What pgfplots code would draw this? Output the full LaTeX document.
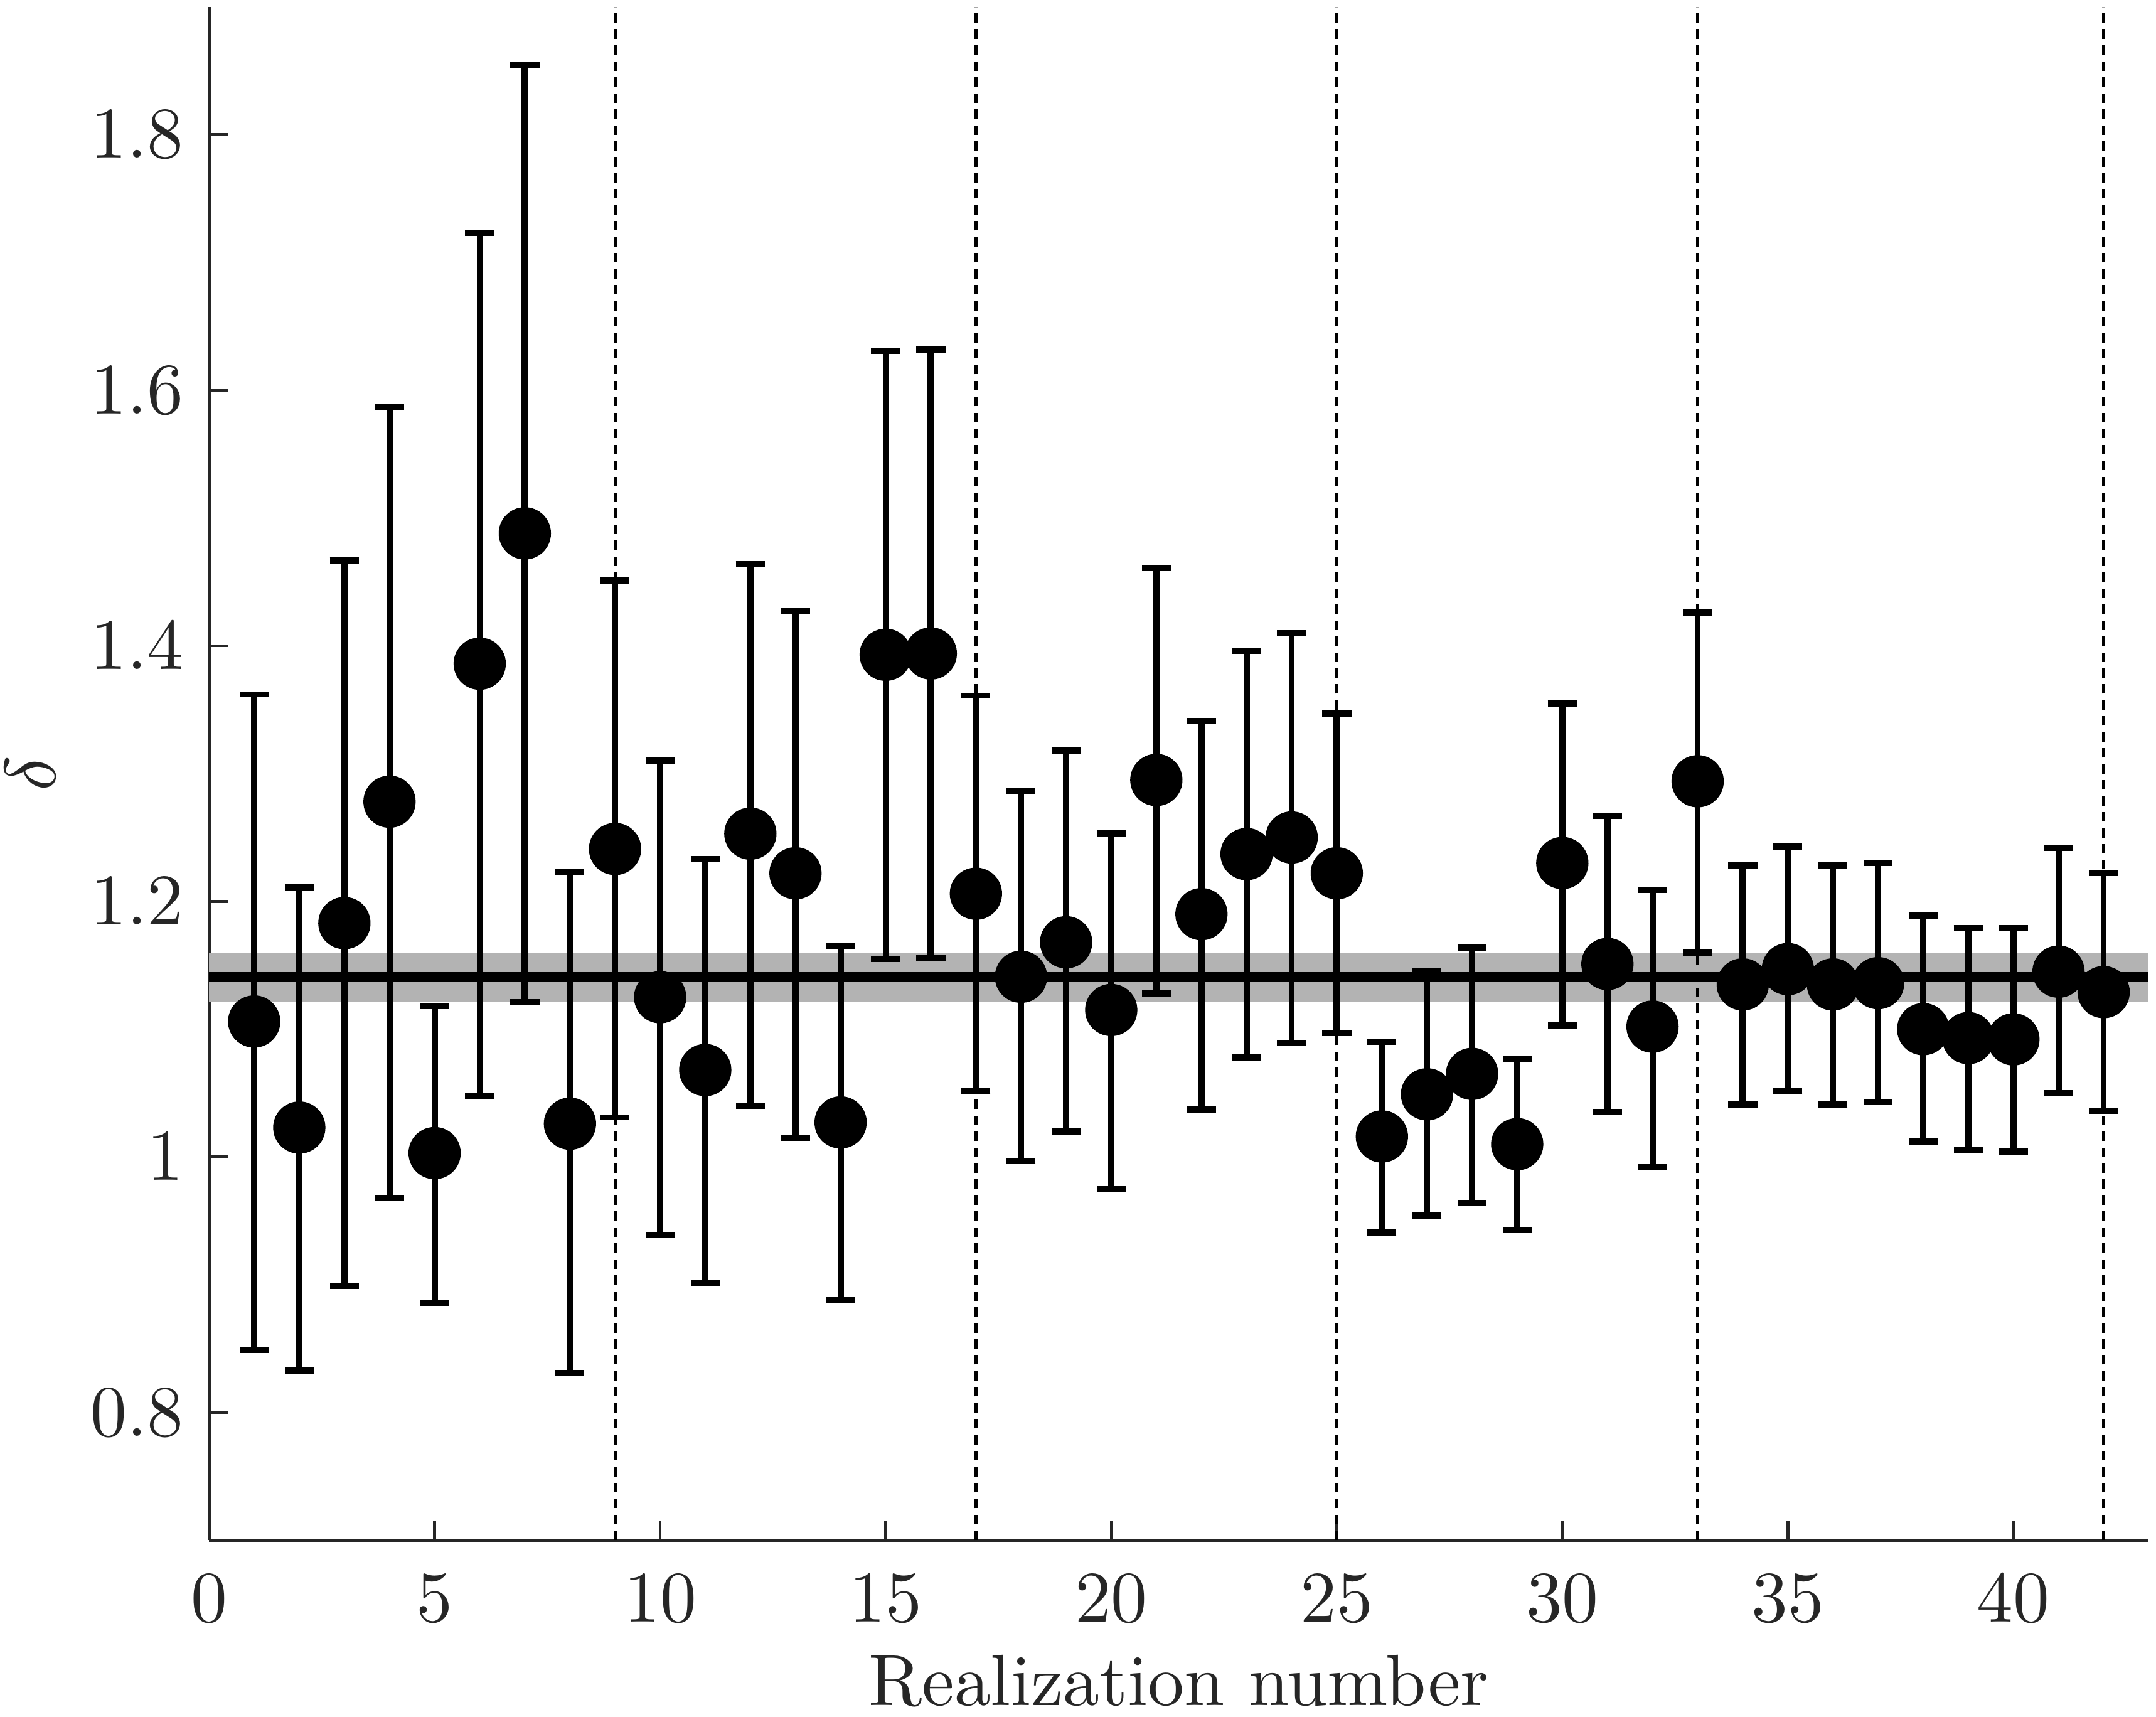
\documentclass[border=0pt]{standalone}
\usepackage{pgfplots}
\pgfplotsset{compat=1.18}
\usepackage{pgfplotstable}
\definecolor{axgray}{rgb}{0.15,0.15,0.15}
\definecolor{bandgray}{RGB}{179,179,179}
\pgfplotstableread{
x y hi lo
1 1.106 1.362 0.849
2 1.023 1.211 0.833
3 1.183 1.467 0.899
4 1.278 1.587 0.968
5 1.003 1.118 0.886
6 1.386 1.723 1.048
7 1.488 1.855 1.121
8 1.026 1.223 0.831
9 1.241 1.451 1.031
10 1.125 1.310 0.939
11 1.068 1.233 0.901
12 1.253 1.464 1.040
13 1.222 1.427 1.015
14 1.027 1.165 0.888
15 1.393 1.631 1.155
16 1.394 1.632 1.156
17 1.206 1.361 1.052
18 1.141 1.286 0.997
19 1.168 1.318 1.020
20 1.115 1.253 0.975
21 1.295 1.461 1.128
22 1.190 1.341 1.037
23 1.237 1.396 1.078
24 1.250 1.410 1.089
25 1.222 1.347 1.097
26 1.016 1.090 0.941
27 1.049 1.145 0.954
28 1.065 1.164 0.964
29 1.010 1.077 0.943
30 1.230 1.355 1.103
31 1.151 1.267 1.035
32 1.102 1.209 0.992
33 1.294 1.426 1.160
34 1.135 1.228 1.041
35 1.147 1.243 1.052
36 1.135 1.228 1.041
37 1.136 1.230 1.043
38 1.100 1.189 1.012
39 1.093 1.179 1.005
40 1.092 1.179 1.004
41 1.145 1.242 1.050
42 1.129 1.222 1.036
}\deltadata
\begin{document}
\begin{tikzpicture}
\begin{axis}[
  scale only axis,
  width=267.2pt, height=211.2pt,
  xmin=0, xmax=43, ymin=0.7, ymax=1.9,
  axis x line=bottom, axis y line=left,
  axis line style={-, draw=axgray, line width=0.45pt},
  xtick={0,5,10,15,20,25,30,35,40},
  ytick={0.8,1,1.2,1.4,1.6,1.8},
  tick align=inside,
  major tick length=2.7pt,
  tick style={draw=axgray, line width=0.4pt},
  ticklabel style={text=axgray},
  xticklabel style={yshift=-1.3pt},
  xlabel={Realization number},
  ylabel={$\delta$},
  label style={text=axgray},
  xlabel style={yshift=2.3pt},
  ylabel style={yshift=-2pt},
]
% confidence band
\addplot[draw=none, fill=bandgray] coordinates {(0,1.121) (43,1.121) (43,1.160) (0,1.160)} -- cycle;
% mean line
\addplot[black, line width=1.3pt] coordinates {(0,1.141) (43,1.141)};
% group separators
\addplot[black, line width=0.45pt, dash pattern=on 1.3pt off 0.9pt] coordinates {(9,0.7) (9,1.9)};
\addplot[black, line width=0.45pt, dash pattern=on 1.3pt off 0.9pt] coordinates {(17,0.7) (17,1.9)};
\addplot[black, line width=0.45pt, dash pattern=on 1.3pt off 0.9pt] coordinates {(25,0.7) (25,1.9)};
\addplot[black, line width=0.45pt, dash pattern=on 1.3pt off 0.9pt] coordinates {(33,0.7) (33,1.9)};
\addplot[black, line width=0.45pt, dash pattern=on 1.3pt off 0.9pt] coordinates {(42,0.7) (42,1.9)};
% estimates with error bars
\addplot[only marks, mark=*, mark size=3.4pt, mark options={fill=black, draw=black},
  error bars/.cd, y dir=both, y explicit,
  error bar style={line width=0.85pt, black},
  error mark options={rotate=90, mark size=2pt, line width=0.85pt, black}]
  table[x=x, y=y, y error plus expr=\thisrow{hi}-\thisrow{y}, y error minus expr=\thisrow{y}-\thisrow{lo}] {\deltadata};
\end{axis}
\pgfresetboundingbox
\path[use as bounding box] (-28.8pt,-24.3pt) rectangle (268.2pt,212.15pt);
\end{tikzpicture}
\end{document}
